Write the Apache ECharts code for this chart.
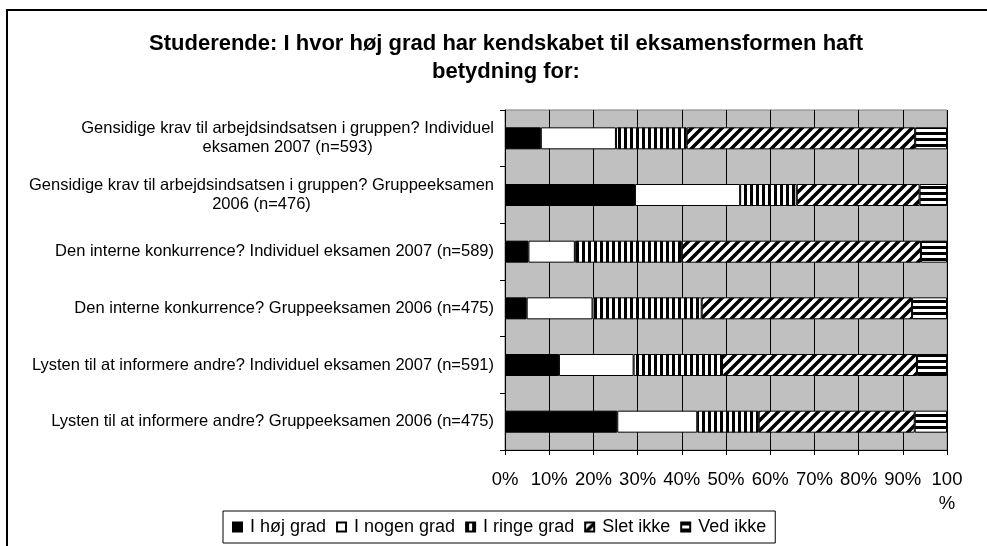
<!DOCTYPE html>
<html>
<head>
<meta charset="utf-8">
<script src="https://cdn.jsdelivr.net/npm/echarts@6/dist/echarts.min.js"></script>
<style>
  html, body { margin: 0; padding: 0; background: #fff; }
  #main { width: 987px; height: 546px; }
</style>
</head>
<body>
<div id="main"></div>
<script>
// categories, top to bottom
var categories = [
  'Gensidige krav til arbejdsindsatsen i gruppen? Individuel\neksamen 2007 (n=593)',
  'Gensidige krav til arbejdsindsatsen i gruppen? Gruppeeksamen\n2006 (n=476)',
  'Den interne konkurrence? Individuel eksamen 2007 (n=589)',
  'Den interne konkurrence? Gruppeeksamen 2006 (n=475)',
  'Lysten til at informere andre? Individuel eksamen 2007 (n=591)',
  'Lysten til at informere andre? Gruppeeksamen 2006 (n=475)'
];
var seriesNames = ['I høj grad', 'I nogen grad', 'I ringe grad', 'Slet ikke', 'Ved ikke'];
// percentages
var hoejGrad   = [8.1, 29.4, 5.3, 4.9, 12.2, 25.4];
var nogenGrad  = [17.0, 23.8, 10.5, 14.9, 16.9, 18.1];
var ringeGrad  = [16.0, 12.8, 24.2, 24.7, 20.0, 13.9];
var sletIkke   = [51.7, 27.8, 54.1, 47.6, 44.1, 35.3];
var vedIkke    = [7.2, 6.2, 5.9, 7.9, 6.8, 7.3];
var xTicks = [0, 10, 20, 30, 40, 50, 60, 70, 80, 90, 100];

var FONT = 'Liberation Sans, Arial, sans-serif';

// hatch patterns
function makePattern(kind) {
  var c = document.createElement('canvas');
  var s = kind === 'diag' ? 10 : 6;
  c.width = s; c.height = s;
  var g = c.getContext('2d');
  g.fillStyle = '#fff';
  g.fillRect(0, 0, s, s);
  g.fillStyle = '#000';
  g.strokeStyle = '#000';
  if (kind === 'vert') {
    g.fillRect(0, 0, 3, s);
  } else if (kind === 'horiz') {
    g.fillRect(0, 0, s, 3);
  } else if (kind === 'diag') {
    g.lineWidth = 3.5;
    g.beginPath();
    g.moveTo(-2, s + 2); g.lineTo(s + 2, -2);
    g.moveTo(-2 - s, s + 2); g.lineTo(2, -2);
    g.moveTo(s - 2, s + 2); g.lineTo(s * 2 + 2, -2);
    g.stroke();
  }
  return { image: c, repeat: 'repeat' };
}

var fills = ['#000', '#fff', makePattern('vert'), makePattern('diag'), makePattern('horiz')];
var values = [hoejGrad, nogenGrad, ringeGrad, sletIkke, vedIkke];

function labelFmt(v) {
  var lines = v.split('\n');
  return lines.map(function (l) { return '{c|' + l + '}'; }).join('\n');
}

var chart = echarts.init(document.getElementById('main'));
chart.setOption({
  animation: false,
  backgroundColor: '#fff',
  title: {
    text: 'Studerende: I hvor høj grad har kendskabet til eksamensformen haft\nbetydning for:',
    left: 501,
    top: 25,
    textAlign: 'center',
    textStyle: { fontFamily: FONT, fontSize: 22, fontWeight: 'bold', color: '#000', lineHeight: 28 }
  },
  graphic: [{
    type: 'rect',
    shape: { x: 7, y: 10, width: 1000, height: 600 },
    style: { fill: 'none', stroke: '#000', lineWidth: 2 },
    z: 100
  }],
  legend: {
    data: seriesNames,
    left: 223,
    top: 511,
    orient: 'horizontal',
    itemWidth: 9,
    itemHeight: 9,
    itemGap: 10,
    padding: [7, 9],
    borderColor: '#000',
    borderWidth: 1,
    backgroundColor: '#fff',
    icon: 'rect',
    textStyle: { fontFamily: FONT, fontSize: 18, color: '#000', padding: [0, 0, 0, 3] }
  },
  grid: {
    left: 505, right: 40, top: 110, bottom: 96,
    show: true, backgroundColor: '#c0c0c0', borderColor: '#808080', borderWidth: 1
  },
  xAxis: {
    type: 'value',
    min: 0, max: 100, interval: 10,
    axisLine: { show: true, lineStyle: { color: '#000', width: 1 } },
    axisTick: { show: true, length: 5, lineStyle: { color: '#000' } },
    splitLine: { show: true, lineStyle: { color: '#000', width: 1 } },
    axisLabel: {
      margin: 18,
      fontFamily: FONT, fontSize: 18.5, color: '#000', lineHeight: 24,
      formatter: function (v) { return v === 100 ? '100\n%' : v + '%'; }
    }
  },
  yAxis: {
    type: 'category',
    inverse: true,
    data: categories,
    axisLine: { show: true, lineStyle: { color: '#000', width: 1 } },
    axisTick: { show: true, length: 5, lineStyle: { color: '#000' } },
    splitLine: { show: false },
    axisLabel: {
      margin: 11,
      align: 'right',
      formatter: labelFmt,
      rich: { c: { fontFamily: FONT, fontSize: 16.5, color: '#000', align: 'center', lineHeight: 19 } }
    }
  },
  series: seriesNames.map(function (name, i) {
    return {
      name: name,
      type: 'bar',
      stack: 'total',
      data: values[i],
      barWidth: 22,
      itemStyle: { color: fills[i], borderColor: '#000', borderWidth: 1 }
    };
  })
});
</script>
</body>
</html>
